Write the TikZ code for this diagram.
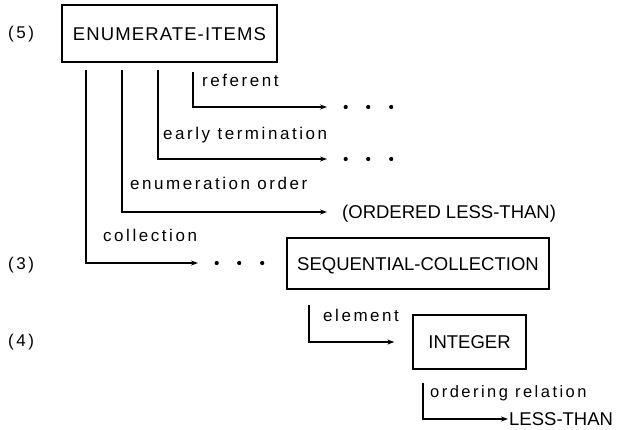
\documentclass[tikz,border=0pt]{standalone}
\usepackage{fontspec}
\setmainfont{Liberation Sans}
\newfontfamily\capsfont{Liberation Sans}
\newfontfamily\widecapsfont[LetterSpace=6]{Liberation Sans}
\newfontfamily\lblfont[LetterSpace=15]{Liberation Sans}
\usetikzlibrary{arrows.meta}

\tikzset{
  x=1pt, y=1pt,
  conn/.style={line width=1.5pt, -{Stealth[length=7pt,width=5pt]}},
  frame/.style={draw, line width=1.3pt, inner sep=0pt, text height=13pt, text depth=0pt},
  capstext/.style={font=\capsfont\fontsize{18.5}{20}\selectfont, text height=13pt, text depth=0pt, inner ysep=0pt},
  lbltext/.style={font=\lblfont\fontsize{17}{19}\selectfont, inner sep=0pt, anchor=base west},
  dotrow/.style={minimum width=72pt, minimum height=8pt, inner sep=0pt, anchor=west,
    path picture={
      \foreach \dx in {18.5,41,64}
        \fill ([xshift=\dx pt]path picture bounding box.west) circle (2.1pt);
    }},
}

\begin{document}
\begin{tikzpicture}
\useasboundingbox (0,0) rectangle (631,-429);

% concept frames
\node[frame, capstext, font=\widecapsfont\fontsize{18.5}{20}\selectfont,
      minimum width=215pt, minimum height=57pt] (enum) at (169.5,-33.5) {ENUMERATE-ITEMS};
\node[frame, capstext, minimum width=262pt, minimum height=51pt] (seq) at (418,-263.5) {SEQUENTIAL-COLLECTION};
\node[frame, capstext, minimum width=113pt, minimum height=54pt] (int) at (469.5,-342) {INTEGER};

% level numbers
\node[lbltext] (n5) at (8,-38) {(5)};
\node[lbltext] (n3) at (8,-269) {(3)};
\node[lbltext] (n4) at (8,-346) {(4)};

% role fillers
\node[dotrow] (more1) at (327,-107) {};
\node[dotrow] (more2) at (327,-159) {};
\node[capstext, anchor=west, inner xsep=15pt] (ord) at (327,-212) {(ORDERED LESS-THAN)};
\node[dotrow] (more3) at (198,-263) {};
\node[capstext, anchor=west, inner xsep=1pt] (lt) at (508,-419) {LESS-THAN};

% role origins
\coordinate (r1) at (193,-72);
\coordinate (r2) at (158,-70);
\coordinate (r3) at (122,-70);
\coordinate (r4) at (86,-70);
\coordinate (r5) at (309,-305);
\coordinate (r6) at (423,-383);

% role connectors
\draw[conn] (r1) |- (more1.west);
\draw[conn] (r2) |- (more2.west);
\draw[conn] (r3) |- (ord.west);
\draw[conn] (r4) |- (more3.west);
\draw[conn, shorten >=18pt] (r5) |- (int.west);
\draw[conn] (r6) |- (lt.west);

% role names
\node[lbltext] (l1) at (202,-86.5) {referent};
\node[lbltext] (l2) at (163,-139.5) {early termination};
\node[lbltext] (l3) at (130,-189.5) {enumeration order};
\node[lbltext] (l4) at (103,-241.5) {collection};
\node[lbltext] (l5) at (323,-321.5) {element};
\node[lbltext, font=\lblfont\fontsize{16.5}{19}\selectfont] (l6) at (430,-397.5) {ordering relation};
\end{tikzpicture}
\end{document}
